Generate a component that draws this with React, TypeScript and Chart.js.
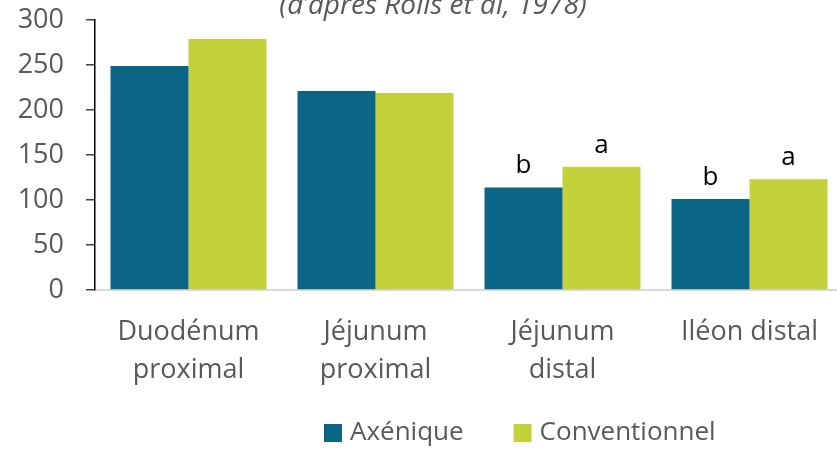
import React, { useEffect, useRef } from "react";
import { Chart, registerables } from "chart.js";

Chart.register(...registerables);

const categories: (string | string[])[] = [
  ["Duodénum", "proximal"],
  ["Jéjunum", "proximal"],
  ["Jéjunum", "distal"],
  "Iléon distal",
];
const seriesNames = ["Axénique", "Conventionnel"];
const axeniqueValues = [249, 221, 114, 101];
const conventionnelValues = [279, 219, 137, 123];
const axeniqueLetters = ["", "", "b", "b"];
const conventionnelLetters = ["", "", "a", "a"];
const yMin = 0;
const yMax = 300;
const yStep = 50;
const titleText = "(d’après Rolls et al, 1978)";

const TEAL = "#0B6584";
const LIME = "#C3D13B";
const GRAY_TEXT = "#595959";
const FONT = "'Open Sans', sans-serif";

const annotationPlugin = {
  id: "annotations",
  afterDatasetsDraw(chart: any) {
    const ctx = chart.ctx;
    const letterSets = [axeniqueLetters, conventionnelLetters];
    ctx.save();
    ctx.font = `26px ${FONT}`;
    ctx.fillStyle = "#000000";
    ctx.textAlign = "center";
    ctx.textBaseline = "alphabetic";
    letterSets.forEach((letters, di) => {
      const meta = chart.getDatasetMeta(di);
      meta.data.forEach((bar: any, i: number) => {
        const t = letters[i];
        if (!t) return;
        ctx.fillText(t, bar.x, bar.y - 14);
      });
    });
    ctx.restore();
  },
  afterDraw(chart: any) {
    const ctx = chart.ctx;
    ctx.save();
    // title
    ctx.font = `italic 28px ${FONT}`;
    ctx.fillStyle = GRAY_TEXT;
    ctx.textAlign = "center";
    ctx.textBaseline = "alphabetic";
    ctx.fillText(titleText, 433, 14);
    // legend
    const colors = [TEAL, LIME];
    let x = 324;
    const sq = 18;
    const cy = 433;
    ctx.font = `26px ${FONT}`;
    ctx.textAlign = "left";
    ctx.textBaseline = "middle";
    seriesNames.forEach((name, i) => {
      ctx.fillStyle = colors[i];
      ctx.fillRect(x, cy - sq / 2, sq, sq);
      x += sq + 8;
      ctx.fillStyle = GRAY_TEXT;
      ctx.fillText(name, x, cy);
      x += ctx.measureText(name).width + 50;
    });
    ctx.restore();
  },
};

export default function App() {
  const canvasRef = useRef<HTMLCanvasElement | null>(null);

  useEffect(() => {
    document.body.style.margin = "0";
    const canvas = canvasRef.current;
    if (!canvas) return;
    const chart = new Chart(canvas, {
      type: "bar",
      data: {
        labels: categories,
        datasets: [
          {
            label: seriesNames[0],
            data: axeniqueValues,
            backgroundColor: TEAL,
            borderWidth: 0,
          },
          {
            label: seriesNames[1],
            data: conventionnelValues,
            backgroundColor: LIME,
            borderWidth: 0,
          },
        ],
      },
      options: {
        responsive: false,
        animation: false,
        devicePixelRatio: 1,
        layout: { padding: { top: 20, right: 7, bottom: 0, left: 0 } },
        plugins: {
          legend: { display: false },
          tooltip: { enabled: false },
          title: { display: false },
        },
        datasets: {
          bar: { categoryPercentage: 0.834, barPercentage: 1 },
        },
        scales: {
          x: {
            grid: { display: false, drawTicks: false },
            border: { display: true, color: "#D9D9D9", width: 2 },
            ticks: {
              color: GRAY_TEXT,
              font: { family: FONT, size: 27, lineHeight: 1.38 },
              padding: 24,
              maxRotation: 0,
              autoSkip: false,
            },
            afterFit: (scale: any) => {
              scale.height = 159;
              scale.paddingLeft = 0;
              scale.paddingRight = 0;
            },
          },
          y: {
            min: yMin,
            max: yMax,
            grid: {
              drawOnChartArea: false,
              drawTicks: true,
              tickLength: 9,
              color: "#404040",
              lineWidth: 1.5,
            },
            border: { display: true, color: "#000000", width: 1.5 },
            ticks: {
              stepSize: yStep,
              color: GRAY_TEXT,
              font: { family: FONT, size: 27 },
              padding: 22,
            },
            afterFit: (scale: any) => {
              scale.width = 95;
              scale.paddingTop = 0;
              scale.paddingBottom = 0;
            },
          },
        },
      },
      plugins: [annotationPlugin],
    });
    return () => chart.destroy();
  }, []);

  return (
    <div
      style={{
        position: "fixed",
        left: 0,
        top: 0,
        width: 837,
        height: 449,
        overflow: "hidden",
        background: "#ffffff",
      }}
    >
      <canvas
        ref={canvasRef}
        width={850}
        height={449}
        style={{ display: "block", width: 850, height: 449 }}
      />
    </div>
  );
}
